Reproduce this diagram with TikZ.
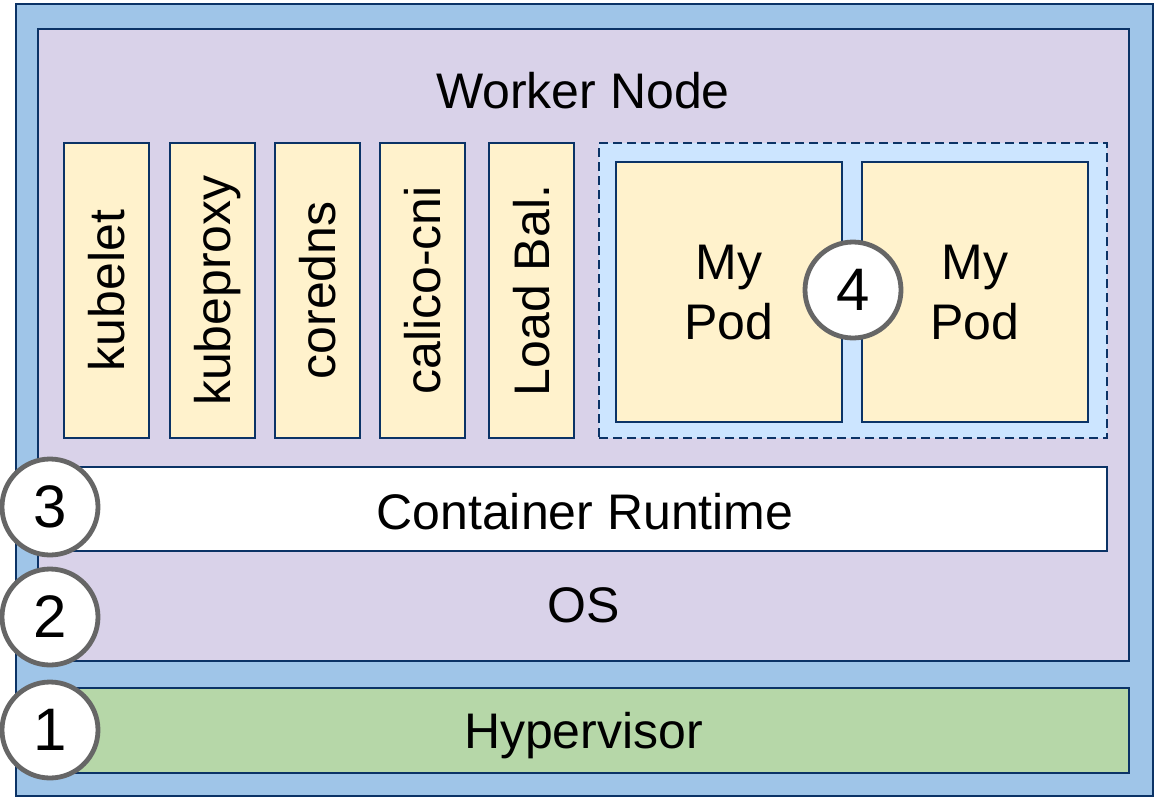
\documentclass[tikz,border=0pt]{standalone}
\usepackage{fontspec}
\setmainfont{Liberation Sans}
\usetikzlibrary{positioning}

\definecolor{hostblue}{HTML}{9FC5E8}
\definecolor{nodepurple}{HTML}{D9D2E9}
\definecolor{svcyellow}{HTML}{FFF2CC}
\definecolor{podblue}{HTML}{CCE5FF}
\definecolor{hypgreen}{HTML}{B6D7A8}
\definecolor{edge}{HTML}{0B3366}
\definecolor{ringgray}{HTML}{666666}

\begin{document}
\begin{tikzpicture}[x=1pt,y=-1pt,
    layer/.style={draw=edge,line width=2pt,inner sep=0pt,
      text depth=0pt,font=\fontsize{50}{60}\selectfont},
    svcbox/.style={layer,fill=svcyellow,rotate=90,
      minimum width=295pt,minimum height=85pt},
    podbox/.style={layer,fill=svcyellow,align=center,
      minimum width=226pt,minimum height=260pt},
    badge/.style={circle,draw=ringgray,line width=4.8pt,fill=white,
      inner sep=0pt,minimum size=96pt,text depth=0pt,
      font=\fontsize{60}{66}\selectfont}]
    \useasboundingbox (0,0) rectangle (1158,798);

    % Host
    \node[layer,fill=hostblue,minimum width=1137pt,minimum height=792pt]
      (host) at (584.5,400) {};

    % Worker node
    \node[layer,fill=nodepurple,minimum width=1091pt,minimum height=632pt]
      (worker) at (583.5,345) {};
    \node[layer,draw=none] (title) at (583,90) {Worker Node};
    \node[layer,draw=none] (os) at (584,605) {OS};

    % System services
    \foreach \x/\name/\txt in {106.5/kubelet/kubelet,212.5/kubeproxy/kubeproxy,
        317.5/coredns/coredns,422.5/calico/calico-cni,531.5/lb/Load Bal.}
      \node[svcbox] (\name) at (\x,290.5) {\txt};

    % Pod group
    \node[layer,fill=podblue,line width=2.3pt,dash pattern=on 9pt off 5pt,
      minimum width=508pt,minimum height=295pt] (pods) at (853,290.5) {};
    \node[podbox] (pod1) at (729,292) {My\\Pod};
    \node[podbox] (pod2) at (975,292) {My\\Pod};

    % Container runtime
    \node[layer,fill=white,minimum width=1069pt,minimum height=84pt]
      (runtime) at (572.5,509) {};
    \node[layer,draw=none] (runtimetext) at (585,511) {Container Runtime};

    % Hypervisor
    \node[layer,fill=hypgreen,minimum width=1091pt,minimum height=85pt]
      (hyper) at (583.5,730.5) {Hypervisor};

    % Numbered markers
    \node[badge] (n1) at (50,730) {1};
    \node[badge] (n2) at (50,617) {2};
    \node[badge] (n3) at (50,507) {3};
    \node[badge] (n4) at (853,290) {4};
\end{tikzpicture}
\end{document}
